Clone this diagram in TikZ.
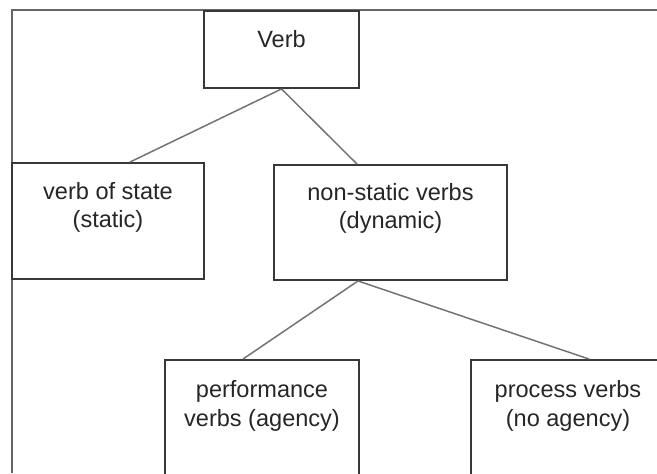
\documentclass[tikz,border=0pt]{standalone}
\usepackage{fontspec}
\setmainfont{Liberation Sans}
\usepackage{tikz}
\usetikzlibrary{positioning,calc}

\begin{document}
\begin{tikzpicture}[box/.style={draw=black!78, line width=1.1pt, inner sep=0pt},
  txt/.style={align=center, inner sep=0pt, text=black!85,
    font=\fontsize{13.4}{16.2}\selectfont},
  link/.style={draw=black!55, line width=0.85pt}]
\useasboundingbox (0,0) rectangle (13.14,9.46); \clip (0,0) rectangle (13.14,9.46);
\draw[black!60, line width=1.1pt] (0.24,0) |- (13.14,9.26);
\node[box, minimum width=3.10cm, minimum height=1.54cm] (verb) at (5.63,8.47) {};
\node[box, minimum width=3.84cm, minimum height=2.32cm] (state) at (2.16,5.04) {};
\node[box, minimum width=4.66cm, minimum height=2.30cm] (dyn) at (7.81,5.01) {};
\node[box, minimum width=3.88cm, minimum height=2.32cm] (perf) at (5.24,1.10) {};
\node[box, minimum width=3.88cm, minimum height=2.32cm] (proc) at (11.36,1.10) {};
\node[txt, below=0.41cm of verb.north] (verb-t) {Verb};
\node[txt, below=0.40cm of state.north] (state-t) {verb of state\\(static)};
\node[txt, below=0.38cm of dyn.north] (dyn-t) {non-static verbs\\(dynamic)};
\node[txt, below=0.43cm of perf.north] (perf-t) {performance\\verbs (agency)};
\node[txt, below=0.43cm of proc.north] (proc-t) {process verbs\\(no agency)};
\draw[link] (verb.south) -- ([xshift=0.44cm]state.north);
\draw[link] (verb.south) -- ([xshift=-0.67cm]dyn.north);
\draw[link] ([xshift=-0.65cm]dyn.south) -- ([xshift=-0.38cm]perf.north);
\draw[link] ([xshift=-0.65cm]dyn.south) -- ([xshift=0.42cm]proc.north);
\end{tikzpicture}
\end{document}
